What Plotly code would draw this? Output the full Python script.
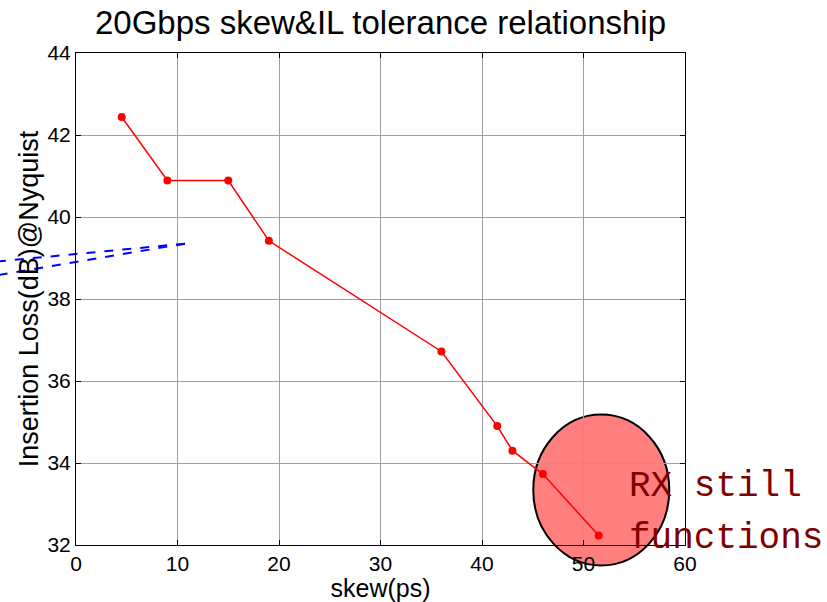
import plotly.graph_objects as go

# Data
skew_ps = [4.5, 9.0, 15.0, 19.0, 36.0, 41.5, 43.0, 46.0, 51.5]
il_db = [42.44, 40.89, 40.89, 39.42, 36.72, 34.90, 34.30, 33.73, 32.23]

x_range = [0, 60]
y_range = [32, 44]
x_ticks = [0, 10, 20, 30, 40, 50, 60]
y_ticks = [32, 34, 36, 38, 40, 42, 44]

# highlighted region (data coords)
ellipse_x = [45.05, 58.45]
ellipse_y = [31.5, 35.18]

# blue dashed guide lines (data coords)
guide_x_start = [10.74, 10.74]
guide_y_start = [39.35, 39.35]
guide_x_end = [-8.0, -8.0]
guide_y_end = [38.91, 38.57]

note_lines = ["RX still", "functions"]
note_x = 54.3
note_y = [33.43, 32.17]

def px(x):
    return (x - x_range[0]) / (x_range[1] - x_range[0])

def py(y):
    return (y - y_range[0]) / (y_range[1] - y_range[0])

FONT = "Arial, Liberation Sans, sans-serif"

fig = go.Figure()
fig.add_trace(go.Scatter(
    x=skew_ps, y=il_db, mode="lines+markers",
    line=dict(color="red", width=1.5),
    marker=dict(color="red", size=8),
    showlegend=False,
))

shapes = [
    dict(type="circle", xref="paper", yref="paper",
         x0=px(ellipse_x[0]), x1=px(ellipse_x[1]),
         y0=py(ellipse_y[0]), y1=py(ellipse_y[1]),
         fillcolor="rgba(255,0,0,0.5)", line=dict(color="black", width=2),
         layer="below"),
]
for xs, ys, xe, ye in zip(guide_x_start, guide_y_start, guide_x_end, guide_y_end):
    shapes.append(dict(type="line", xref="paper", yref="paper",
                       x0=px(xs), y0=py(ys), x1=px(xe), y1=py(ye),
                       line=dict(color="blue", width=2, dash="dash"),
                       layer="above"))

annotations = []
for txt, yv in zip(note_lines, note_y):
    annotations.append(dict(text=txt, xref="paper", yref="paper",
                            x=px(note_x), y=py(yv), xanchor="left", yanchor="middle",
                            showarrow=False,
                            font=dict(family="Liberation Mono, Courier New, monospace",
                                      size=36, color="#800000")))

axis_common = dict(
    showline=True, linecolor="black", linewidth=1, mirror="ticks",
    ticks="inside", ticklen=5, tickcolor="black", tickwidth=1,
    showgrid=True, gridcolor="#a0a0a0", gridwidth=1,
    zeroline=False, tickfont=dict(family=FONT, size=21, color="black"),
)

fig.update_layout(
    width=827, height=602,
    margin=dict(l=76, r=142, t=53, b=57, autoexpand=False),
    paper_bgcolor="white", plot_bgcolor="rgba(0,0,0,0)",
    title=dict(text="20Gbps skew&IL tolerance relationship",
               x=(76 + 685) / 2 / 827, xanchor="center",
               y=1 - 22 / 602, yanchor="middle",
               font=dict(family=FONT, size=33, color="black")),
    xaxis=dict(range=x_range, tickvals=x_ticks, **axis_common,
               title=dict(text="skew(ps)", standoff=2,
                          font=dict(family=FONT, size=25, color="black"))),
    yaxis=dict(range=y_range, tickvals=y_ticks, **axis_common,
               title=dict(text="Insertion Loss(dB)@Nyquist", standoff=0,
                          font=dict(family=FONT, size=27, color="black"))),
    shapes=shapes,
    annotations=annotations,
)

fig.write_html("out.html")
